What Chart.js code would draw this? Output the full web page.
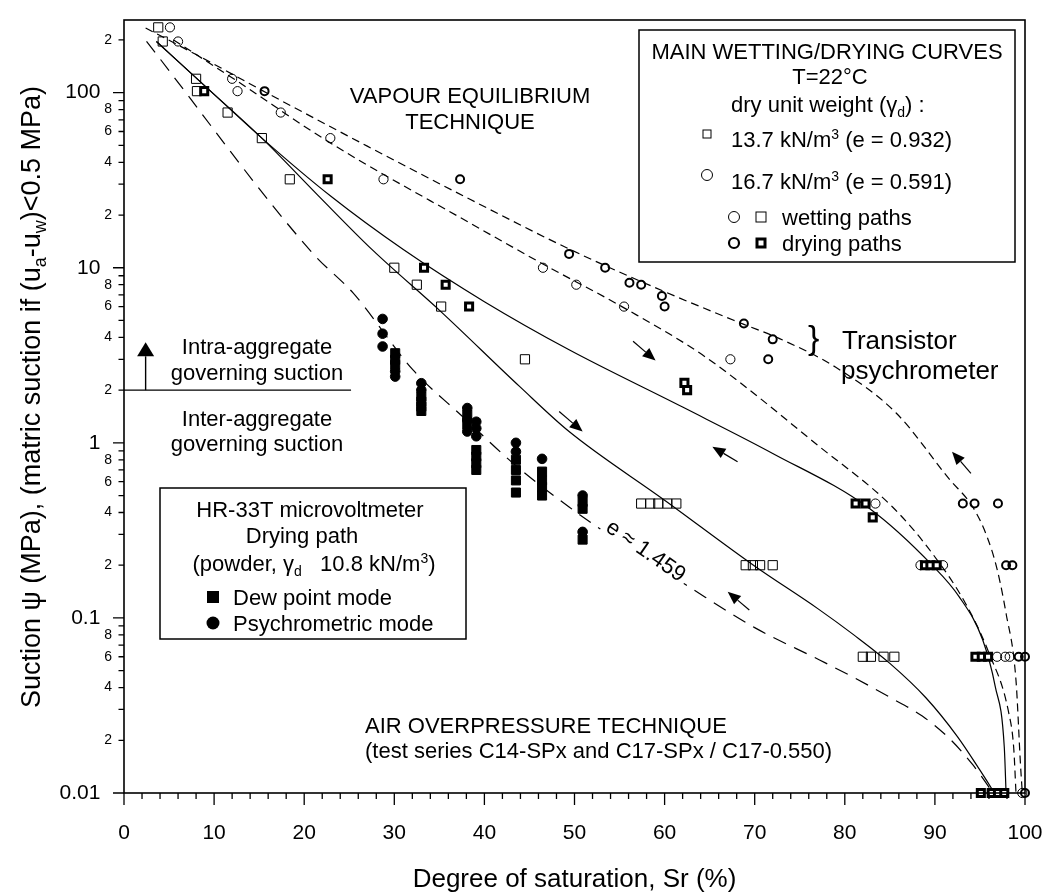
<!DOCTYPE html>
<html>
<head>
<meta charset="utf-8">
<title>Suction vs degree of saturation</title>
<script src="https://cdn.jsdelivr.net/npm/chart.js@4.4.1/dist/chart.umd.min.js"></script>
<style>
  html, body { margin: 0; padding: 0; background: #fff; }
  canvas { display: block; }
</style>
</head>
<body>
<canvas id="chart" width="1050" height="896"></canvas>
<script>
const FONT = "'Liberation Sans', Arial, Helvetica, sans-serif";

// Axis ticks
const xTickValues = [0, 10, 20, 30, 40, 50, 60, 70, 80, 90, 100];
const yTickValues = [0.01, 0.02, 0.03, 0.04, 0.05, 0.06, 0.07, 0.08, 0.09,
  0.1, 0.2, 0.3, 0.4, 0.5, 0.6, 0.7, 0.8, 0.9,
  1, 2, 3, 4, 5, 6, 7, 8, 9,
  10, 20, 30, 40, 50, 60, 70, 80, 90,
  100, 200];
const yTickLabels = ['0.01', '2', '', '4', '', '6', '', '8', '',
  '0.1', '2', '', '4', '', '6', '', '8', '',
  '1', '2', '', '4', '', '6', '', '8', '',
  '10', '2', '', '4', '', '6', '', '8', '',
  '100', '2'];
const yDecades = [0.01, 0.1, 1, 10, 100];

// Measured points [Sr (%), suction (MPa)]
// gamma_d = 13.7 kN/m3 (e = 0.932)
const wet137 = [[3.8, 236], [4.3, 196], [8.0, 120], [8.1, 102], [11.5, 77], [15.3, 55], [18.4, 32],
  [30.0, 10], [32.5, 8], [35.2, 6], [44.5, 3],
  [57.4, 0.45], [58.4, 0.45], [59.3, 0.45], [60.3, 0.45], [61.3, 0.45],
  [69.0, 0.2], [69.8, 0.2], [70.6, 0.2], [72.0, 0.2],
  [82.0, 0.06], [82.9, 0.06], [84.3, 0.06], [85.5, 0.06]];
const dry137 = [[8.9, 102], [22.6, 32], [33.3, 10], [35.7, 8], [38.3, 6], [62.2, 2.2], [62.5, 2.0],
  [81.2, 0.45], [82.3, 0.45], [83.1, 0.375],
  [88.9, 0.2], [89.5, 0.2], [90.2, 0.2],
  [94.5, 0.06], [95.2, 0.06], [95.9, 0.06],
  [95.1, 0.01], [96.3, 0.01], [97.0, 0.01], [97.7, 0.01]];
// gamma_d = 16.7 kN/m3 (e = 0.591)
const wet167 = [[5.1, 236], [6.0, 196], [12.0, 120], [12.6, 102], [17.4, 77], [22.9, 55], [28.8, 32],
  [46.5, 10], [50.2, 8], [55.5, 6], [67.3, 3.0],
  [83.4, 0.45], [88.4, 0.2], [90.9, 0.2],
  [96.9, 0.06], [97.8, 0.06], [98.3, 0.06], [99.7, 0.01]];
const dry167 = [[15.6, 102], [37.3, 32], [49.4, 12], [53.4, 10], [56.1, 8.2], [57.4, 8.0],
  [59.7, 6.9], [60.0, 6.0], [68.8, 4.8], [72.0, 3.9], [71.5, 3.0],
  [93.1, 0.45], [94.4, 0.45], [97.0, 0.45],
  [97.9, 0.2], [98.6, 0.2], [99.3, 0.06], [100, 0.06], [100, 0.01]];
// HR-33T microvoltmeter, powder
const dewPoint = [[30.1, 3.25], [30.1, 2.98], [30.1, 2.79],
  [33.0, 1.84], [33.0, 1.72], [33.0, 1.61], [33.0, 1.52],
  [38.1, 1.45], [38.1, 1.27],
  [39.1, 0.91], [39.1, 0.835], [39.1, 0.765], [39.1, 0.70],
  [43.5, 0.80], [43.5, 0.70], [43.5, 0.61], [43.5, 0.52],
  [46.4, 0.685], [46.4, 0.61], [46.4, 0.56], [46.4, 0.50],
  [50.9, 0.46], [50.9, 0.42], [50.9, 0.28]];
const psychro = [[28.7, 5.1], [28.7, 4.2], [28.7, 3.55],
  [30.1, 2.56], [30.1, 2.39],
  [33.0, 2.19], [33.0, 2.0],
  [38.1, 1.58], [38.1, 1.35], [38.1, 1.16],
  [39.1, 1.32], [39.1, 1.21], [39.1, 1.09],
  [43.5, 1.0], [43.5, 0.89],
  [46.4, 0.81],
  [50.9, 0.50], [50.9, 0.31]];

// Fitted curves
const curveDry167 = [[2.4, 234], [8, 165], [15.8, 100], [27, 49.5], [38.4, 24.6], [49.4, 12.8], [60, 7.3],
  [68.8, 4.75], [72.7, 3.95], [79, 2.7], [85.7, 1.48], [91.6, 0.62], [94.2, 0.43], [95.8, 0.29],
  [96.9, 0.19], [97.9, 0.106], [99.0, 0.044], [99.5, 0.0145], [99.7, 0.01]];
const curveWet167 = [[5.5, 200], [12.6, 116], [22.8, 52], [38.4, 18], [46.5, 10.5], [55.5, 5.9], [64.5, 3.1],
  [77.2, 0.95], [85.3, 0.43], [89.7, 0.234], [93.4, 0.121], [96.0, 0.063], [98.2, 0.0286],
  [98.75, 0.018], [99.0, 0.01]];
const curveDry137 = [[3.6, 196], [9, 109], [15.3, 55], [23, 25.5], [31.0, 12.7], [40, 6.4], [49.4, 3.4],
  [62, 1.6], [72, 0.87], [82.7, 0.423], [89.7, 0.2], [92.7, 0.132], [95.3, 0.075], [96.7, 0.0405],
  [97.7, 0.0183], [97.9, 0.01]];
const curveWet137 = [[3.6, 196], [9, 109], [15.3, 55], [21.5, 26], [27.6, 12.6], [35.2, 5.6], [43.9, 2.1],
  [49.4, 1.16], [60, 0.47], [70.1, 0.196], [77, 0.113], [81, 0.08], [85, 0.055], [89, 0.035],
  [92.5, 0.021], [95, 0.0135], [96.4, 0.0104], [96.6, 0.01]];
const curvePowder = [[2.5, 196], [21, 12], [25.4, 7.2], [32.1, 2.6], [37.6, 1.41], [43.5, 0.74], [49.4, 0.43],
  [56, 0.25], [62.4, 0.154], [70, 0.088], [77.2, 0.0575], [81.2, 0.0451], [85, 0.0352], [88.6, 0.0275],
  [91.6, 0.0205], [94.2, 0.0145], [96.0, 0.0108], [96.4, 0.01]];

const toXY = arr => arr.map(p => ({ x: p[0], y: p[1] }));

function markerSet(data, style, radius, border, fill) {
  return {
    data: toXY(data), showLine: false, clip: false,
    pointStyle: style, pointRadius: radius, pointBorderWidth: border,
    pointBorderColor: '#000', pointBackgroundColor: fill
  };
}
function curveSet(data, dash) {
  return {
    data: toXY(data), showLine: true, pointRadius: 0, borderColor: '#000', borderWidth: 1.2,
    borderDash: dash, cubicInterpolationMode: 'monotone', fill: false
  };
}

// rich text: parts are strings or {t, sub} / {t, sup}; y is the visual middle of the capitals
function rich(ctx, parts, x, y, size, align) {
  const small = Math.round(size * 0.65);
  const segs = parts.map(p => typeof p === 'string' ? { t: p } : p);
  let w = 0;
  segs.forEach(s => {
    ctx.font = `${s.sub || s.sup ? small : size}px ${FONT}`;
    s.w = ctx.measureText(s.t).width;
    w += s.w;
  });
  let cx = align === 'center' ? x - w / 2 : (align === 'right' ? x - w : x);
  const base = y + size * 0.36;
  ctx.textAlign = 'left';
  ctx.textBaseline = 'alphabetic';
  segs.forEach(s => {
    ctx.font = `${s.sub || s.sup ? small : size}px ${FONT}`;
    const dy = s.sup ? -size * 0.38 : (s.sub ? size * 0.24 : 0);
    ctx.fillText(s.t, cx, base + dy);
    cx += s.w;
  });
  return w;
}

function mark(ctx, type, x, y) {
  ctx.save();
  ctx.strokeStyle = '#000';
  ctx.fillStyle = '#000';
  ctx.beginPath();
  if (type === 'sq') { ctx.lineWidth = 1; ctx.strokeRect(x - 5, y - 5, 10, 10); }
  else if (type === 'sqSmall') { ctx.lineWidth = 1; ctx.strokeRect(x - 4, y - 4, 8, 8); }
  else if (type === 'sqBold') { ctx.lineWidth = 3; ctx.fillStyle = '#fff'; ctx.fillRect(x - 4, y - 4, 8, 8); ctx.strokeRect(x - 4, y - 4, 8, 8); }
  else if (type === 'ci') { ctx.lineWidth = 1; ctx.arc(x, y, 5.5, 0, Math.PI * 2); ctx.stroke(); }
  else if (type === 'ciBold') { ctx.lineWidth = 2.2; ctx.arc(x, y, 5, 0, Math.PI * 2); ctx.stroke(); }
  else if (type === 'sqFill') { ctx.fillRect(x - 6, y - 6, 12, 12); }
  else if (type === 'ciFill') { ctx.arc(x, y, 6.5, 0, Math.PI * 2); ctx.fill(); }
  ctx.restore();
}

function arrow(ctx, x1, y1, x2, y2, head, half) {
  const a = Math.atan2(y2 - y1, x2 - x1);
  const bx = x2 - head * Math.cos(a), by = y2 - head * Math.sin(a);
  ctx.beginPath(); ctx.moveTo(x1, y1); ctx.lineTo(bx, by); ctx.stroke();
  ctx.beginPath(); ctx.moveTo(x2, y2);
  ctx.lineTo(bx + half * Math.sin(a), by - half * Math.cos(a));
  ctx.lineTo(bx - half * Math.sin(a), by + half * Math.cos(a));
  ctx.closePath(); ctx.fill();
}

const annotations = {
  id: 'annotations',
  afterDraw(chart) {
    const ctx = chart.ctx;
    const xs = chart.scales.x, ys = chart.scales.y;
    const px = v => xs.getPixelForValue(v);
    const py = v => ys.getPixelForValue(v);
    const a = chart.chartArea;
    ctx.save();
    ctx.strokeStyle = '#000';
    ctx.fillStyle = '#000';

    // frame and ticks
    ctx.lineWidth = 1.6;
    ctx.strokeRect(a.left, a.top, a.right - a.left, a.bottom - a.top);
    ctx.lineWidth = 1.3;
    ctx.beginPath();
    for (let v = 0; v <= 100; v += 2) {
      const len = v % 10 === 0 ? 12 : 6;
      ctx.moveTo(px(v), a.bottom); ctx.lineTo(px(v), a.bottom + len);
    }
    yTickValues.forEach(v => {
      const len = yDecades.includes(v) ? 11 : 5.5;
      ctx.moveTo(a.left, py(v)); ctx.lineTo(a.left - len, py(v));
    });
    ctx.stroke();

    // axis titles
    rich(ctx, ['Degree of saturation, Sr (%)'], (a.left + a.right) / 2, 878, 26, 'center');
    ctx.save();
    ctx.translate(30, 397);
    ctx.rotate(-Math.PI / 2);
    rich(ctx, ['Suction \u03C8 (MPa), (matric suction if (u', { t: 'a', sub: true }, '-u', { t: 'w', sub: true }, ')<0.5 MPa)'], 0, 0, 27, 'center');
    ctx.restore();

    // intra / inter aggregate separation
    ctx.lineWidth = 1.4;
    ctx.beginPath(); ctx.moveTo(px(0), py(2)); ctx.lineTo(px(25.2), py(2)); ctx.stroke();
    arrow(ctx, px(2.4), py(2), px(2.4), py(3.75), 14, 8.5);
    rich(ctx, ['Intra-aggregate'], 257, 346, 22, 'center');
    rich(ctx, ['governing suction'], 257, 372, 22, 'center');
    rich(ctx, ['Inter-aggregate'], 257, 418, 22, 'center');
    rich(ctx, ['governing suction'], 257, 443, 22, 'center');

    // technique labels
    rich(ctx, ['VAPOUR EQUILIBRIUM'], 470, 95, 22, 'center');
    rich(ctx, ['TECHNIQUE'], 470, 121, 22, 'center');
    rich(ctx, ['AIR OVERPRESSURE TECHNIQUE'], 365, 725, 22, 'left');
    rich(ctx, ['(test series C14-SPx and C17-SPx / C17-0.550)'], 365, 750, 22, 'left');
    ctx.font = `34px ${FONT}`;
    ctx.textAlign = 'left'; ctx.textBaseline = 'middle';
    ctx.fillText('}', 808, 340);
    rich(ctx, ['Transistor'], 842, 340, 26, 'left');
    rich(ctx, ['psychrometer'], 841, 370, 26, 'left');

    // path direction arrows
    ctx.lineWidth = 1.2;
    [[56.5, 3.8, 59.0, 2.95], [48.3, 1.51, 50.9, 1.16], [68.1, 0.78, 65.3, 0.95],
     [94.0, 0.67, 91.9, 0.89], [69.4, 0.111, 67.0, 0.141]].forEach(r => {
      arrow(ctx, px(r[0]), py(r[1]), px(r[2]), py(r[3]), 13, 5.5);
    });

    // e ~ 1.459 label along the powder curve
    ctx.save();
    ctx.translate(px(58.0), py(0.245));
    ctx.rotate(34.8 * Math.PI / 180);
    ctx.font = `22px ${FONT}`;
    const ew = ctx.measureText('e \u2248 1.459').width;
    ctx.fillStyle = '#fff';
    ctx.fillRect(-ew / 2 - 4, -12, ew + 8, 24);
    ctx.fillStyle = '#000';
    rich(ctx, ['e \u2248 1.459'], 0, 0, 22, 'center');
    ctx.restore();

    // main legend
    ctx.lineWidth = 1.5;
    ctx.fillStyle = '#fff';
    ctx.fillRect(639, 30, 376, 232);
    ctx.strokeRect(639, 30, 376, 232);
    ctx.fillStyle = '#000';
    rich(ctx, ['MAIN WETTING/DRYING CURVES'], 827, 51, 22, 'center');
    rich(ctx, ['T=22\u00B0C'], 830, 76, 22, 'center');
    rich(ctx, ['dry unit weight (\u03B3', { t: 'd', sub: true }, ') :'], 731, 104, 22, 'left');
    mark(ctx, 'sqSmall', 707, 134);
    rich(ctx, ['13.7 kN/m', { t: '3', sup: true }, ' (e = 0.932)'], 731, 139, 22, 'left');
    mark(ctx, 'ci', 707, 175);
    rich(ctx, ['16.7 kN/m', { t: '3', sup: true }, ' (e = 0.591)'], 731, 181, 22, 'left');
    mark(ctx, 'ci', 734, 217);
    mark(ctx, 'sq', 761, 217);
    rich(ctx, ['wetting paths'], 782, 217, 22, 'left');
    mark(ctx, 'ciBold', 734, 243);
    mark(ctx, 'sqBold', 761, 243);
    rich(ctx, ['drying paths'], 782, 243, 22, 'left');

    // HR-33T legend
    ctx.lineWidth = 1.5;
    ctx.fillStyle = '#fff';
    ctx.fillRect(160, 488, 306, 151);
    ctx.strokeRect(160, 488, 306, 151);
    ctx.fillStyle = '#000';
    rich(ctx, ['HR-33T microvoltmeter'], 310, 509, 22, 'center');
    rich(ctx, ['Drying path'], 302, 535, 22, 'center');
    rich(ctx, ['(powder, \u03B3', { t: 'd', sub: true }, '   10.8 kN/m', { t: '3', sup: true }, ')'], 314, 563, 22, 'center');
    mark(ctx, 'sqFill', 213, 597);
    rich(ctx, ['Dew point mode'], 233, 597, 22, 'left');
    mark(ctx, 'ciFill', 213, 623);
    rich(ctx, ['Psychrometric mode'], 233, 623, 22, 'left');

    ctx.restore();
  }
};

Chart.defaults.font.family = FONT;
Chart.defaults.color = '#000';

new Chart(document.getElementById('chart'), {
  type: 'scatter',
  data: {
    datasets: [
      markerSet(psychro, 'circle', 4.8, 1, '#000'),
      markerSet(dewPoint, 'rect', 6.4, 1, '#000'),
      markerSet(dry137, 'rect', 5, 3, '#fff'),
      markerSet(wet137, 'rect', 6.5, 1, 'rgba(0,0,0,0)'),
      markerSet(dry167, 'circle', 4, 2, 'rgba(0,0,0,0)'),
      markerSet(wet167, 'circle', 4.6, 1, 'rgba(0,0,0,0)'),
      curveSet(curveDry167, [8, 5]),
      curveSet(curveWet167, [8, 5]),
      curveSet(curveDry137, []),
      curveSet(curveWet137, []),
      curveSet(curvePowder, [14, 9])
    ]
  },
  options: {
    responsive: false,
    animation: false,
    events: [],
    layout: { padding: { top: 20, right: 25, left: 0, bottom: 0 } },
    plugins: { legend: { display: false }, tooltip: { enabled: false } },
    scales: {
      x: {
        type: 'linear', min: 0, max: 100,
        afterBuildTicks: s => { s.ticks = xTickValues.map(v => ({ value: v })); },
        ticks: { font: { size: 21 }, color: '#000', padding: 28, autoSkip: false, maxRotation: 0 },
        grid: { display: false, drawTicks: false },
        border: { display: false },
        afterFit: s => { s.height = 103; s.paddingLeft = 0; s.paddingRight = 0; }
      },
      y: {
        type: 'logarithmic', min: 0.01, max: 260,
        afterBuildTicks: s => { s.ticks = yTickValues.map(v => ({ value: v })); },
        ticks: {
          autoSkip: false, color: '#000', padding: 12,
          callback: (v, i) => yDecades.includes(v) ? yTickLabels[i] + '  ' : yTickLabels[i],
          font: c => ({ size: c.tick && yDecades.includes(c.tick.value) ? 21 : 14 })
        },
        grid: { display: false, drawTicks: false },
        border: { display: false },
        afterFit: s => { s.width = 124; s.paddingTop = 0; s.paddingBottom = 0; }
      }
    }
  },
  plugins: [annotations]
});
</script>
</body>
</html>
